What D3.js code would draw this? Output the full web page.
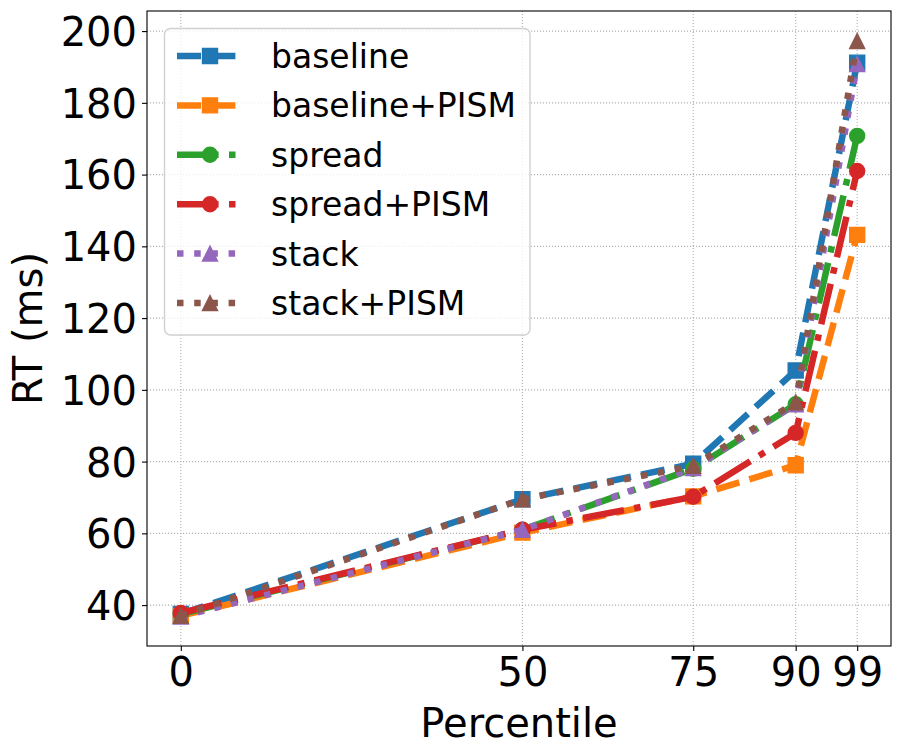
<!DOCTYPE html>
<html>
<head>
<meta charset="utf-8">
<script src="https://cdn.jsdelivr.net/npm/d3@7"></script>
<style>
  body { margin: 0; background: #fff; }
  text { font-family: "DejaVu Sans", sans-serif; fill: #000; }
</style>
</head>
<body>
<div id="chart"></div>
<script>
// percentiles on the x axis
var percentiles = [0, 50, 75, 90, 99];
var yTicks = [40, 60, 80, 100, 120, 140, 160, 180, 200];

// response time (ms) per series
var baseline     = [37.5, 69.5, 79.4, 105.4, 191.2];
var baselinePISM = [37.0, 60.2, 70.3, 79.0, 143.2];
var spread       = [37.5, 61.0, 78.0, 96.0, 170.8];
var spreadPISM   = [37.8, 61.0, 70.2, 88.0, 161.0];
var stack        = [36.8, 61.0, 78.2, 96.0, 190.8];
var stackPISM    = [37.0, 69.5, 78.8, 96.5, 197.2];

var names = ["baseline", "baseline+PISM", "spread", "spread+PISM", "stack", "stack+PISM"];
var seriesValues = [baseline, baselinePISM, spread, spreadPISM, stack, stackPISM];

var colors = ["#1f77b4", "#ff7f0e", "#2ca02c", "#d62728", "#9467bd", "#8c564b"];
var markers = ["square", "square", "circle", "circle", "triangle", "triangle"];
var dashes = ["24,10.4", "24,10.4", "41.6,10.4,6.5,10.4", "41.6,10.4,6.5,10.4", "6.5,10.7", "6.5,10.7"];

var width = 902;
var height = 756;
var plotLeft = 147, plotRight = 891, plotTop = 11, plotBottom = 646;
var lw = 6.5;
var ms = 15;

var svg = d3.select("#chart")
    .append("svg")
    .attr("width", width)
    .attr("height", height);

var x = d3.scaleLinear()
    .domain([-4.95, 103.95])
    .range([plotLeft, plotRight]);

var y = d3.scaleLinear()
    .domain([28.6, 205.6])
    .range([plotBottom, plotTop]);

// grid
svg.append("g")
    .selectAll("line")
    .data(percentiles)
    .enter()
    .append("line")
    .attr("x1", function(d) { return x(d); })
    .attr("x2", function(d) { return x(d); })
    .attr("y1", plotTop)
    .attr("y2", plotBottom)
    .attr("stroke", "#b0b0b0")
    .attr("stroke-width", 1.1)
    .attr("stroke-dasharray", "1.1,1.9");

svg.append("g")
    .selectAll("line")
    .data(yTicks)
    .enter()
    .append("line")
    .attr("x1", plotLeft)
    .attr("x2", plotRight)
    .attr("y1", function(d) { return y(d); })
    .attr("y2", function(d) { return y(d); })
    .attr("stroke", "#b0b0b0")
    .attr("stroke-width", 1.1)
    .attr("stroke-dasharray", "1.1,1.9");

// axes
var bottomAxis = d3.axisBottom(x)
    .tickValues(percentiles)
    .tickSize(5)
    .tickPadding(5)
    .tickSizeOuter(0);
var leftAxis = d3.axisLeft(y)
    .tickValues(yTicks)
    .tickSize(5)
    .tickPadding(5)
    .tickSizeOuter(0);

var gx = svg.append("g")
    .attr("transform", "translate(0," + plotBottom + ")")
    .call(bottomAxis);
var gy = svg.append("g")
    .attr("transform", "translate(" + plotLeft + ",0)")
    .call(leftAxis);

[gx, gy].forEach(function(g) {
    g.select(".domain").remove();
    g.selectAll(".tick line").attr("stroke", "#000").attr("stroke-width", 1.1);
    g.selectAll(".tick text")
        .style("font-family", "DejaVu Sans")
        .style("font-size", "40px")
        .attr("fill", "#000");
});
gx.selectAll(".tick text").attr("dy", "0.76em");
gy.selectAll(".tick text").attr("dy", "0.36em");

// lines and markers
var line = d3.line()
    .x(function(d, i) { return x(percentiles[i]); })
    .y(function(d) { return y(d); });

function markerPath(type, size) {
    var h = size / 2;
    if (type === "square") {
        return "M" + (-h) + "," + (-h) + "H" + h + "V" + h + "H" + (-h) + "Z";
    }
    if (type === "triangle") {
        return "M0," + (-h) + "L" + h + "," + h + "L" + (-h) + "," + h + "Z";
    }
    return d3.symbol().type(d3.symbolCircle).size(Math.PI * h * h)();
}

var plot = svg.append("g");
seriesValues.forEach(function(vals, k) {
    var g = plot.append("g");
    g.append("path")
        .datum(vals)
        .attr("d", line)
        .attr("fill", "none")
        .attr("stroke", colors[k])
        .attr("stroke-width", lw)
        .attr("stroke-dasharray", dashes[k])
        .attr("stroke-linejoin", "round");
    g.selectAll(".pt")
        .data(vals)
        .enter()
        .append("path")
        .attr("transform", function(d, i) {
            return "translate(" + x(percentiles[i]) + "," + y(d) + ")";
        })
        .attr("d", markerPath(markers[k], ms))
        .attr("fill", colors[k])
        .attr("stroke", colors[k])
        .attr("stroke-width", 1.4);
});

// frame
svg.append("rect")
    .attr("x", plotLeft)
    .attr("y", plotTop)
    .attr("width", plotRight - plotLeft)
    .attr("height", plotBottom - plotTop)
    .attr("fill", "none")
    .attr("stroke", "#000")
    .attr("stroke-width", 1.1);

// axis labels
svg.append("text")
    .attr("x", (plotLeft + plotRight) / 2)
    .attr("y", 737)
    .attr("text-anchor", "middle")
    .style("font-size", "40px")
    .text("Percentile");

svg.append("text")
    .attr("transform", "translate(42," + ((plotTop + plotBottom) / 2) + ") rotate(-90)")
    .attr("text-anchor", "middle")
    .style("font-size", "40px")
    .text("RT (ms)");

// legend
var legend = svg.append("g");
legend.append("rect")
    .attr("x", 164.5)
    .attr("y", 28.5)
    .attr("width", 365.5)
    .attr("height", 306.5)
    .attr("rx", 6)
    .attr("fill", "#fff")
    .attr("fill-opacity", 0.8)
    .attr("stroke", "#d0d0d0")
    .attr("stroke-width", 1.4);

var rows = legend.selectAll(".row")
    .data(names)
    .enter()
    .append("g")
    .attr("transform", function(d, i) { return "translate(0," + (56 + i * 49.4) + ")"; });

rows.append("line")
    .attr("x1", 177)
    .attr("x2", 238)
    .attr("y1", 0)
    .attr("y2", 0)
    .attr("stroke", function(d, i) { return colors[i]; })
    .attr("stroke-width", lw)
    .attr("stroke-dasharray", function(d, i) { return dashes[i]; });

rows.append("path")
    .attr("transform", "translate(210,0)")
    .attr("d", function(d, i) { return markerPath(markers[i], ms); })
    .attr("fill", function(d, i) { return colors[i]; })
    .attr("stroke", function(d, i) { return colors[i]; })
    .attr("stroke-width", 1.4);

rows.append("text")
    .attr("x", 271)
    .attr("y", 12)
    .style("font-size", "33px")
    .text(function(d) { return d; });
</script>
</body>
</html>
